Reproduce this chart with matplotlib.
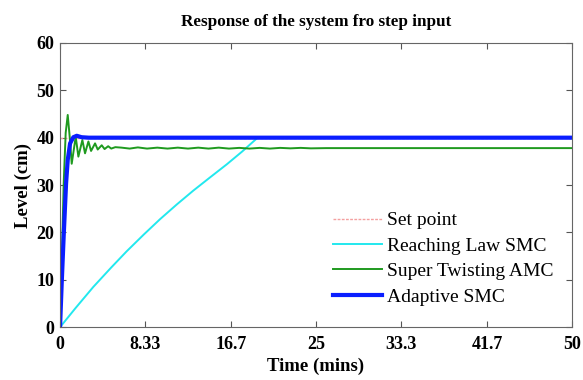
import numpy as np
import matplotlib
matplotlib.use("Agg")
import matplotlib.pyplot as plt

# Daten
t_set = [0, 50]
lvl_set = [40, 40]

t_reach = [0, 1.5, 3.25, 5, 6.5, 8.2, 9.77, 11.4, 13, 14.7, 16.3, 17.8, 19.3, 50]
lvl_reach = [0, 4.0, 8.5, 12.6, 16.0, 19.6, 22.8, 25.9, 28.8, 31.7, 34.4, 37.1, 40, 40]

t_st = [0, 0.15, 0.35, 0.55, 0.75, 0.95, 1.14, 1.53, 1.79, 2.18, 2.44, 2.77,
        3.03, 3.42, 3.68, 4.07, 4.35, 4.7, 5.0, 5.4, 6.0, 6.8, 7.6, 8.5, 9.5,
        10.5, 11.5, 12.5, 13.5, 14.5, 15.5, 16.5, 17.5, 18.5, 19.5, 20.5, 21.5,
        22.5, 23.5, 24.5, 26, 28, 50]
lvl_st = [0, 12, 30, 41, 44.8, 40, 34.5, 40.2, 36.0, 39.5, 36.7, 39.2,
          37.2, 38.8, 37.5, 38.4, 37.6, 38.2, 37.7, 38.0, 37.9, 37.7, 37.95, 37.7, 37.9,
          37.7, 37.9, 37.7, 37.9, 37.7, 37.9, 37.7, 37.85, 37.7, 37.85, 37.7, 37.85,
          37.75, 37.85, 37.75, 37.8, 37.8, 37.8]

t_ad = [0, 0.16, 0.35, 0.59, 0.75, 0.98, 1.3, 1.63, 2.1, 2.8, 50]
lvl_ad = [0, 9.2, 19, 30.4, 35.3, 38.8, 40.1, 40.4, 40.1, 40, 40]

xticks = [0, 8.33, 16.7, 25, 33.3, 41.7, 50]
xticklabels = ["0", "8.33", "16.7", "25", "33.3", "41.7", "50"]

plt.rcParams['font.family'] = ['Liberation Serif', 'DejaVu Serif']

fig = plt.figure(figsize=(5.83, 3.8), dpi=100)
ax = fig.add_axes([0.103, 0.139, 0.878, 0.748])

ax.plot(t_set, lvl_set, color='#f4a0a0', linestyle=(0, (2, 1)), lw=1.0, label='Set point')
ax.plot(t_reach, lvl_reach, color='#22e8ee', lw=1.4, label='Reaching Law SMC')
ax.plot(t_st, lvl_st, color='#1f9a1f', lw=1.4, label='Super Twisting AMC')
ax.plot(t_ad, lvl_ad, color='#0a1eff', lw=3.0, label='Adaptive SMC')

ax.set_xlim(0, 50)
ax.set_ylim(0, 60)
ax.set_xticks(xticks)
ax.set_xticklabels(xticklabels)
ax.set_yticks(range(0, 61, 10))
ax.tick_params(direction='in', top=True, right=True, length=4, color='#555555',
               labelsize=13)
ax.tick_params(axis='x', pad=6)
ax.tick_params(axis='y', pad=4)
for lab in ax.get_xticklabels() + ax.get_yticklabels():
    lab.set_fontweight('bold')
for s in ax.spines.values():
    s.set_color('#666666')

ax.set_title('Response of the system fro step input', fontsize=12.3, fontweight='bold', pad=12)
ax.set_xlabel('Time (mins)', fontsize=13.5, fontweight='bold', labelpad=4)
ax.set_ylabel('Level (cm)', fontsize=13.5, fontweight='bold', labelpad=3)

ax.legend(loc='upper left', bbox_to_anchor=(0.518, 0.433), frameon=False,
          fontsize=14, handlelength=2.5, handletextpad=0.26, labelspacing=0.4,
          borderaxespad=0)

fig.savefig('out.png', dpi=100)
